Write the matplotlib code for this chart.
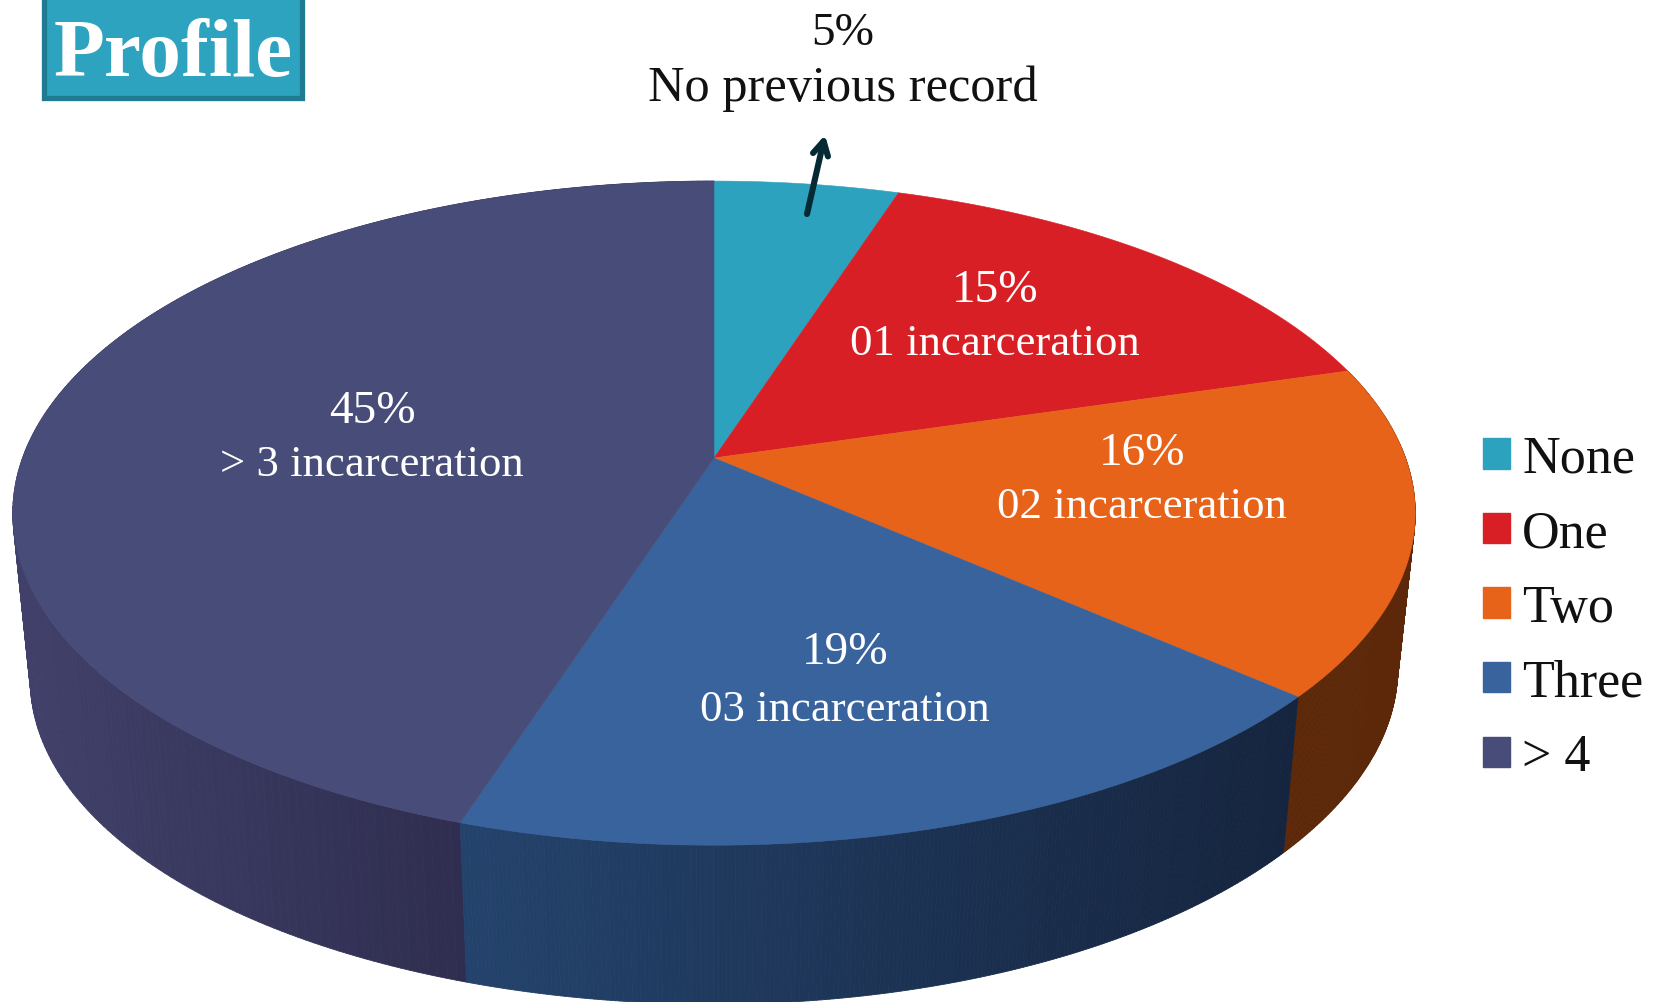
import numpy as np
import matplotlib
matplotlib.use("Agg")
import matplotlib.pyplot as plt
from matplotlib.patches import Polygon, Rectangle, Patch
from matplotlib.collections import PolyCollection
from matplotlib.colors import to_rgb

categories = ["None", "One", "Two", "Three", "> 4"]
shares = [5.0, 15.45, 16.0, 18.55, 45.0]
slice_notes = ["No previous record", "01 incarceration", "02 incarceration",
               "03 incarceration", "> 3 incarceration"]

top_colors = ["#2da2bf", "#d91f26", "#e8631a", "#38639d", "#484c78"]
side_left = [None, None, "#5c2809", "#24436c", "#40406a"]
side_right = [None, None, "#5c2809", "#15243e", "#2f2e50"]
note_xy = [None, (995, 344), (1142, 507), (845, 710), (372, 465)]
pct_xy = [None, (995, 291), (1142, 454), (845, 653), (372, 412)]

W, H = 1663, 1003
APEX_X, APEX_Y = 714.0, 459.0
A, B, K = 691.5, 322.9, 0.166
DEPTH, SHRINK = 168.6, 0.975


def project(theta_deg, lower=False):
    t = np.radians(np.asarray(theta_deg, dtype=float))
    x, y = np.sin(t), np.cos(t)
    den = 1 + K * y
    px, py = A * x / den, B * y / den
    if lower:
        thin = 12.0 * np.clip(x, 0, None) ** 2
        px, py = px * SHRINK, py * SHRINK - (DEPTH - thin)
    return APEX_X + px, APEX_Y - py


plt.rcParams["font.family"] = ["Liberation Serif", "DejaVu Serif"]
fig = plt.figure(figsize=(W / 100, H / 100), dpi=100)
ax = fig.add_axes([0, 0, 1, 1])
ax.set_xlim(0, W)
ax.set_ylim(H, 0)
ax.axis("off")

edges = np.concatenate([[0], np.cumsum(shares)]) * 3.6

# extruded rim, drawn as fine quads for the horizontal gradient
for i in [4, 2, 3]:
    if side_left[i] is None:
        continue
    th = np.linspace(edges[i], edges[i + 1], 220)
    xt, yt = project(th)
    xb, yb = project(th, lower=True)
    c0, c1 = np.array(to_rgb(side_left[i])), np.array(to_rgb(side_right[i]))
    x0, x1 = xt.min(), xt.max()
    if i == 4:
        x0, x1 = xt.min(), project(edges[4])[0]
    quads, cols = [], []
    for j in range(len(th) - 1):
        quads.append([(xt[j], yt[j]), (xt[j + 1], yt[j + 1]),
                      (xb[j + 1], yb[j + 1]), (xb[j], yb[j])])
        f = np.clip((0.5 * (xt[j] + xt[j + 1]) - x0) / (x1 - x0), 0, 1)
        cols.append(c0 + (c1 - c0) * f)
    ax.add_collection(PolyCollection(quads, facecolors=cols, edgecolors=cols, linewidths=0.6))

# top faces
for i in range(len(shares)):
    th = np.linspace(edges[i], edges[i + 1], 200)
    xt, yt = project(th)
    pts = np.vstack([[APEX_X, APEX_Y], np.column_stack([xt, yt])])
    ax.add_patch(Polygon(pts, closed=True, facecolor=top_colors[i],
                         edgecolor=top_colors[i], linewidth=0.4))

# slice labels
for i in range(1, len(shares)):
    ax.text(*pct_xy[i], f"{round(shares[i])}%", color="white", fontsize=34, ha="center", va="center")
    ax.text(*note_xy[i], slice_notes[i], color="white", fontsize=32.2, ha="center", va="center")
ax.text(843, 34, f"{round(shares[0])}%", color="#111111", fontsize=34, ha="center", va="center")
ax.text(843, 89, slice_notes[0], color="#111111", fontsize=36.4, ha="center", va="center")

ax.annotate("", xy=(825, 136), xytext=(807, 215),
            arrowprops=dict(arrowstyle="->,head_length=1.0,head_width=0.55", color="#062a33",
                            lw=4.4, shrinkA=0, shrinkB=0, capstyle="round"))

# title box
ax.add_patch(Rectangle((44.2, -4), 257.8, 103, facecolor="#2ea3c0", edgecolor="#1f7a92", linewidth=3.8))
ax.text(173, 56, "Profile", color="white", fontsize=60, fontweight="bold", ha="center", va="center")

# legend
handles = [Patch(facecolor=c, edgecolor=c) for c in top_colors]
ax.legend(handles, categories, loc="upper left", bbox_to_anchor=(1483 / W, 1 - 436 / H),
          frameon=False, fontsize=37.5, borderpad=0, borderaxespad=0,
          handlelength=0.52, handleheight=0.52, handletextpad=0.23, labelspacing=0.51,
          labelcolor="#111111")

fig.savefig("out.png", dpi=100)
